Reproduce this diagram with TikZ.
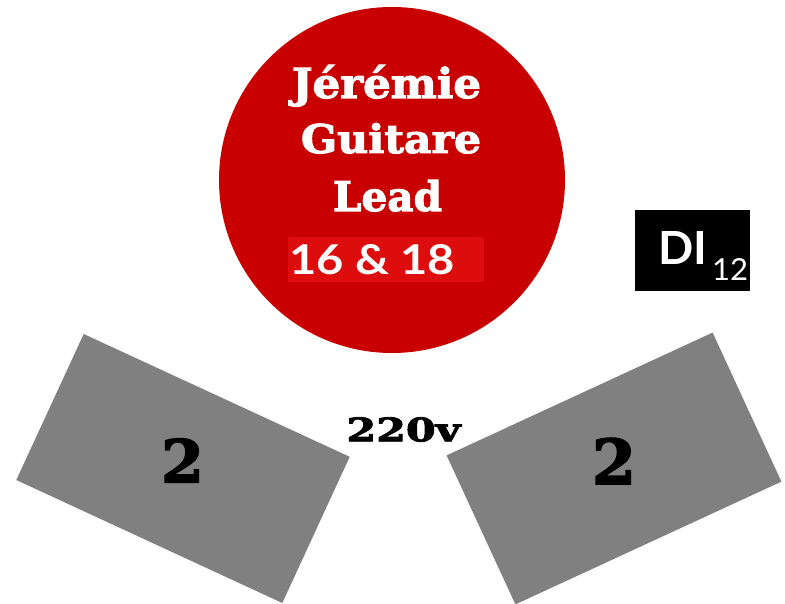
\documentclass[tikz,border=0pt]{standalone}
\usepackage{fontspec}
\usepackage{graphicx}
\setmainfont{DejaVu Serif}
\newfontfamily\heavy{DejaVu Serif}[BoldFeatures={FakeBold=2.5}]
\newfontfamily\hum{Lato}
\definecolor{circred}{HTML}{C80000}
\definecolor{boxred}{HTML}{DD0D0D}
\definecolor{ampgray}{HTML}{808080}
\tikzset{
  txt/.style={inner sep=0pt, outer sep=0pt},
  wtxt/.style={txt, text=white},
  amp/.style={fill=ampgray, draw=none}
}
\begin{document}
\begin{tikzpicture}[x=1pt,y=-1pt]
\useasboundingbox (0,0) rectangle (785,604);
\fill[white] (0,0) rectangle (785,604);
% singer circle
\node[circle, fill=circred, minimum size=346pt, inner sep=0pt] (singer) at (392,180) {};
\node[wtxt, anchor=base] (name) at (386.5,98) {\resizebox{189pt}{33pt}{\heavy\bfseries Jérémie}};
\node[wtxt, anchor=base] (role1) at (391,153) {\resizebox{180pt}{30pt}{\heavy\bfseries Guitare}};
\node[wtxt, anchor=base] (role2) at (387.5,211) {\resizebox{109pt}{31pt}{\heavy\bfseries Lead}};
\node[fill=boxred, minimum width=196pt, minimum height=45pt, inner sep=0pt, anchor=north west] (chbox) at (288,237) {};
\node[wtxt, anchor=base west] (ch) at (289,275) {\resizebox{166pt}{30pt}{\hum\bfseries 16 \& 18}};
% DI box
\node[fill=black, minimum width=115pt, minimum height=81pt, inner sep=0pt, anchor=north west] (dibox) at (635,210) {};
\node[wtxt, anchor=base west] (di) at (658,265) {\resizebox{49pt}{33pt}{\hum\bfseries DI}};
\node[wtxt, anchor=base west] (disub) at (712,280) {\resizebox{36pt}{22pt}{\hum 12}};
% amps
\fill[amp] (83.7,334) -- (349.7,456.8) -- (282.3,603) -- (16.3,480) -- cycle;
\fill[amp] (446.6,455.4) -- (712.6,332.6) -- (781.4,481.6) -- (515.4,604.4) -- cycle;
\node[txt] (ampL) at (182.5,460.5) {\resizebox{43pt}{44pt}{\heavy\bfseries 2}};
\node[txt] (ampR) at (614,461) {\resizebox{44pt}{46pt}{\heavy\bfseries 2}};
\node[txt] (power) at (403.5,429.5) {\resizebox{114pt}{24pt}{\heavy\bfseries 220v}};
\end{tikzpicture}
\end{document}
